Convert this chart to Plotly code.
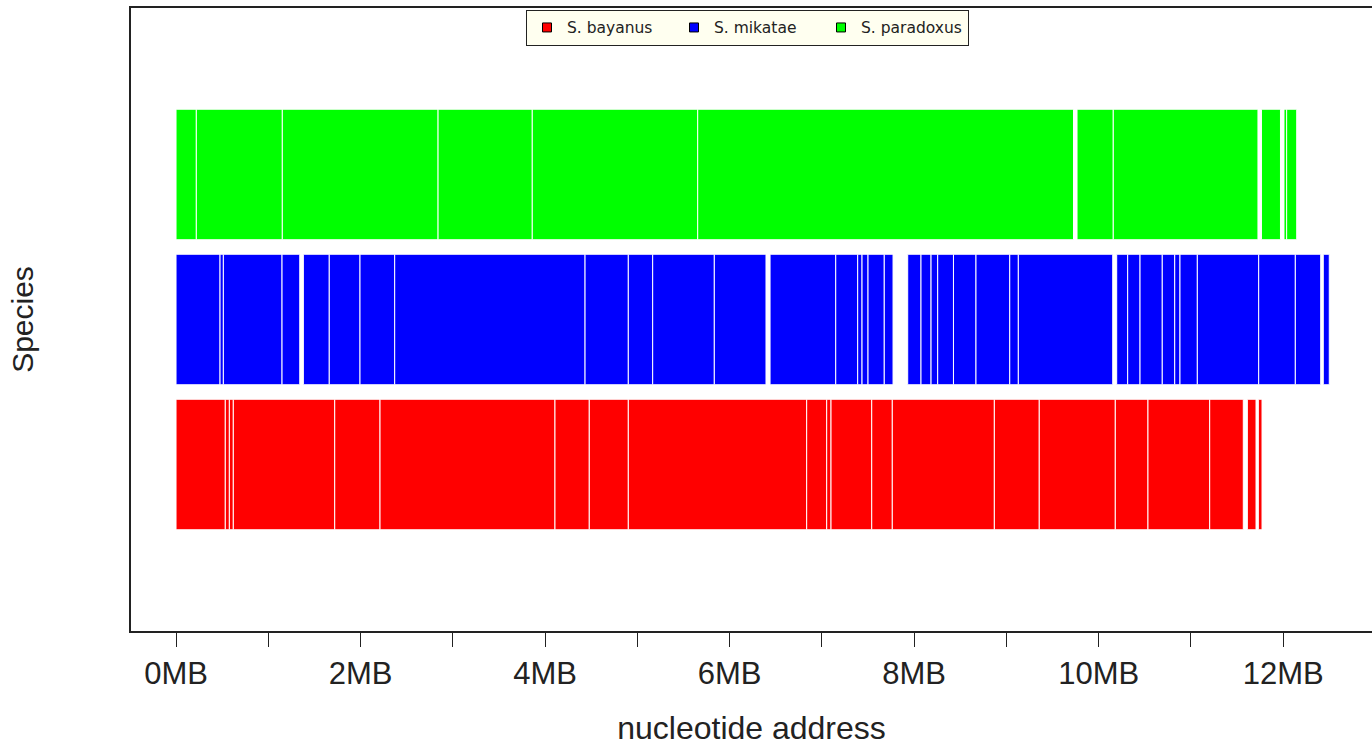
import plotly.graph_objects as go

# ---------------- data (MB) ----------------
species = ["S. bayanus", "S. mikatae", "S. paradoxus"]
species_rows = [1, 2, 3]
species_colors = ["#ff0000", "#0000ff", "#00ff00"]

bayanus_start = [0.000, 0.534, 0.578, 0.621, 1.720, 2.211, 4.107, 4.479, 4.902, 6.835,
                 7.052, 7.099, 7.540, 7.763, 8.869, 9.356, 10.180, 10.534, 11.203, 11.611, 11.730]
bayanus_end = [0.534, 0.578, 0.621, 1.720, 2.211, 4.107, 4.479, 4.902, 6.835, 7.052,
               7.099, 7.540, 7.763, 8.869, 9.356, 10.180, 10.534, 11.203, 11.567, 11.705, 11.770]

mikatae_start = [0.000, 0.477, 0.513, 1.149, 1.380, 1.661, 1.994, 2.370, 4.433, 4.902,
                 5.166, 5.834, 6.438, 7.150, 7.388, 7.435, 7.500, 7.676, 7.930, 8.074,
                 8.183, 8.255, 8.426, 8.670, 9.036, 9.129, 10.195, 10.314, 10.448, 10.689,
                 10.824, 10.881, 11.069, 11.734, 12.131, 12.434]
mikatae_end = [0.477, 0.513, 1.149, 1.341, 1.661, 1.994, 2.370, 4.433, 4.902, 5.166,
               5.834, 6.394, 7.150, 7.388, 7.435, 7.500, 7.676, 7.771, 8.074, 8.183,
               8.255, 8.426, 8.670, 9.036, 9.129, 10.152, 10.314, 10.448, 10.689, 10.824,
               10.881, 11.069, 11.734, 12.131, 12.406, 12.499]

paradoxus_start = [0.000, 0.220, 1.152, 2.840, 3.861, 5.654, 9.765, 10.158, 11.764, 12.008, 12.037]
paradoxus_end = [0.220, 1.152, 2.840, 3.861, 5.654, 9.727, 10.158, 11.726, 11.970, 12.037, 12.146]

tick_values = list(range(13))
tick_text = ["0MB", "", "2MB", "", "4MB", "", "6MB", "", "8MB", "", "10MB", "", "12MB"]

starts = [bayanus_start, mikatae_start, paradoxus_start]
ends = [bayanus_end, mikatae_end, paradoxus_end]

fig = go.Figure()

for name, row, col, s, e in zip(species, species_rows, species_colors, starts, ends):
    fig.add_trace(go.Bar(
        orientation="h",
        y=[row] * len(s),
        base=s,
        x=[b - a for a, b in zip(s, e)],
        width=0.9,
        marker=dict(color=col, line=dict(color="white", width=1)),
        showlegend=False,
        name=name,
        hoverinfo="skip",
    ))

for name, col in zip(species, species_colors):
    fig.add_trace(go.Scatter(
        x=[None], y=[None], mode="markers", name=name,
        marker=dict(symbol="square", size=9, color=col, line=dict(color="black", width=1)),
    ))

axis_color = "#222222"
font_family = "Liberation Sans, Arial, sans-serif"

fig.update_layout(
    width=1372, height=746, autosize=False,
    margin=dict(l=131, r=0, t=8, b=113),
    plot_bgcolor="white", paper_bgcolor="white",
    barmode="overlay",
    font=dict(family=font_family, color="#222222"),
    xaxis=dict(
        range=[-0.488, 12.962],
        tickvals=tick_values, ticktext=tick_text,
        ticks="outside", ticklen=14, tickwidth=1, tickcolor=axis_color,
        showline=True, linecolor=axis_color, linewidth=1.5, mirror=True,
        showgrid=False, zeroline=False,
        tickfont=dict(size=31, color="#222222"),
        title=dict(text="nucleotide address", font=dict(size=32, color="#222222"), standoff=33),
    ),
    yaxis=dict(
        range=[-0.148, 4.148],
        showticklabels=False, ticks="",
        showline=True, linecolor=axis_color, linewidth=1.5,
        showgrid=False, zeroline=False,
        title=dict(text="Species", font=dict(size=30, color="#222222"), standoff=87),
    ),
    legend=dict(
        orientation="h", x=0.3183, xanchor="left", y=0.997, yanchor="top",
        bgcolor="#fffff0", bordercolor=axis_color, borderwidth=1,
        font=dict(size=15.5, color="#222222", family="DejaVu Sans, sans-serif"),
        entrywidth=102, entrywidthmode="pixels",
    ),
)

fig.write_html("out.html", config={"displayModeBar": False},
               post_script="document.body.style.margin='0';")
